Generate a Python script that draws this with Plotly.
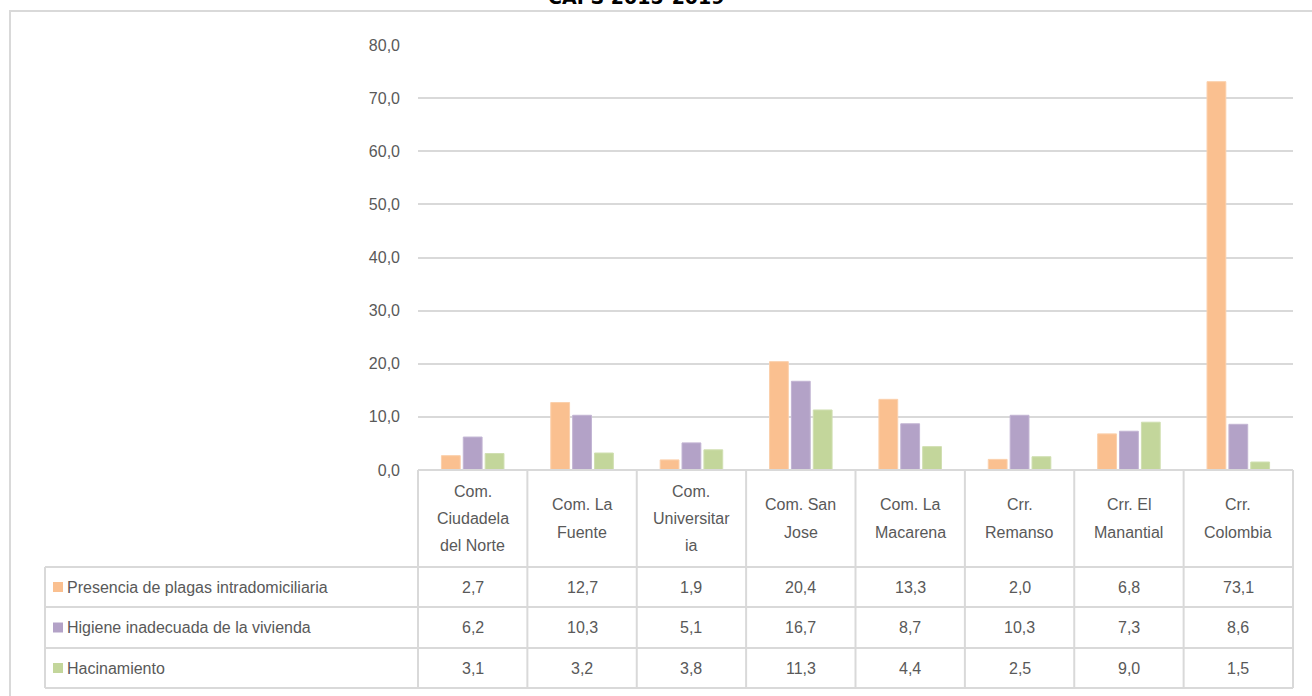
import plotly.graph_objects as go

# ---- data ----
categories = ["Com. Ciudadela del Norte", "Com. La Fuente", "Com. Universitaria",
              "Com. San Jose", "Com. La Macarena", "Crr. Remanso",
              "Crr. El Manantial", "Crr. Colombia"]
header_labels = ["Com.<br>Ciudadela<br>del Norte", "Com. La<br>Fuente", "Com.<br>Universitar<br>ia",
                 "Com. San<br>Jose", "Com. La<br>Macarena", "Crr.<br>Remanso",
                 "Crr. El<br>Manantial", "Crr.<br>Colombia"]
series_names = ["Presencia de plagas intradomiciliaria",
                "Higiene inadecuada de la vivienda",
                "Hacinamiento"]
plagas = [2.7, 12.7, 1.9, 20.4, 13.3, 2.0, 6.8, 73.1]
higiene = [6.2, 10.3, 5.1, 16.7, 8.7, 10.3, 7.3, 8.6]
hacinamiento = [3.1, 3.2, 3.8, 11.3, 4.4, 2.5, 9.0, 1.5]
title_text = "CAPS 2015-2019"

series_values = [plagas, higiene, hacinamiento]
colors = ["#FAC090", "#B3A2C7", "#C3D69B"]
edge_colors = ["#FBD0AC", "#C2B4D3", "#D0DFB1"]

W, H = 1312, 696
L, R = 418, 1293      # plot left/right pixels
T, B = 45, 470        # plot top/bottom pixels
GRID = "#D9D9D9"
TXT = "#595959"
FONT = "Liberation Sans, Arial, sans-serif"
FS = 16


def px(x):
    return (x - L) / (R - L)


def py(y):
    return (B - y) / (B - T)


fig = go.Figure()
for name, vals, c, ec in zip(series_names, series_values, colors, edge_colors):
    fig.add_trace(go.Bar(x=categories, y=vals, name=name,
                         marker=dict(color=c, line=dict(color=ec, width=1))))

shapes = []
annotations = []

# outer chart border
shapes.append(dict(type="rect", xref="paper", yref="paper",
                   x0=px(10), x1=px(1330), y0=py(11), y1=py(720),
                   line=dict(color=GRID, width=2), layer="below"))

n = len(categories)
cw = (R - L) / n
row_lines = [567, 607, 648, 688]
# horizontal lines
shapes.append(dict(type="line", xref="paper", yref="paper",
                   x0=px(L), x1=px(R), y0=py(B), y1=py(B),
                   line=dict(color=GRID, width=2)))
for yl in row_lines:
    shapes.append(dict(type="line", xref="paper", yref="paper",
                       x0=px(45), x1=px(R), y0=py(yl), y1=py(yl),
                       line=dict(color=GRID, width=2)))
# vertical lines
for i in range(n + 1):
    xl = L + i * cw
    shapes.append(dict(type="line", xref="paper", yref="paper",
                       x0=px(xl), x1=px(xl), y0=py(B), y1=py(688),
                       line=dict(color=GRID, width=2)))
shapes.append(dict(type="line", xref="paper", yref="paper",
                   x0=px(45), x1=px(45), y0=py(567), y1=py(688),
                   line=dict(color=GRID, width=2)))

# header labels
hdr_center = (B + 567) / 2
line_h = 27
for cat, lab in zip(categories, header_labels):
    lines = lab.split("<br>")
    k = len(lines)
    for j, ln in enumerate(lines):
        yc = hdr_center + (j - (k - 1) / 2) * line_h
        annotations.append(dict(x=cat, xref="x", y=py(yc), yref="paper",
                                text=ln, showarrow=False, xanchor="center", yanchor="middle",
                                font=dict(family=FONT, size=FS, color=TXT)))

# data rows
row_centers = [(row_lines[i] + row_lines[i + 1]) / 2 for i in range(3)]
for r, (name, vals, c) in enumerate(zip(series_names, series_values, colors)):
    yc = row_centers[r]
    shapes.append(dict(type="rect", xref="paper", yref="paper",
                       x0=px(53), x1=px(63), y0=py(yc - 5), y1=py(yc + 5),
                       fillcolor=c, line=dict(width=0)))
    annotations.append(dict(x=px(65), xref="paper", y=py(yc), yref="paper",
                            text=name, showarrow=False, xanchor="left", yanchor="middle",
                            font=dict(family=FONT, size=FS, color=TXT)))
    for cat, v in zip(categories, vals):
        annotations.append(dict(x=cat, xref="x", y=py(yc), yref="paper",
                                text=f"{v:.1f}".replace(".", ","), showarrow=False,
                                xanchor="center", yanchor="middle",
                                font=dict(family=FONT, size=FS, color=TXT)))

# title (clipped at the top edge, as in the reference)
annotations.append(dict(x=px(636), xref="paper", y=py(9), yref="paper",
                        text=f"<b>{title_text}</b>", showarrow=False,
                        xanchor="center", yanchor="bottom", borderpad=0,
                        font=dict(family="DejaVu Sans", size=19, color="#000000")))

fig.update_layout(
    width=W, height=H,
    margin=dict(l=L, r=W - R, t=T, b=H - B, pad=0),
    paper_bgcolor="white", plot_bgcolor="white",
    barmode="group", bargap=0.4, bargroupgap=0.14,
    showlegend=False,
    separators=",.",
    xaxis=dict(showticklabels=False, showgrid=False, zeroline=False, showline=False,
               ticks="", range=[-0.5, n - 0.5]),
    yaxis=dict(range=[0, 80], dtick=10, tickformat=".1f", showgrid=True,
               gridcolor=GRID, gridwidth=2, zeroline=False, showline=False,
               ticks="", ticklabelstandoff=17,
               tickfont=dict(family=FONT, size=FS, color=TXT)),
    shapes=shapes, annotations=annotations,
)

fig.write_html("out.html", config={"displayModeBar": False},
               post_script="document.body.style.margin='0px';document.body.style.padding='0px';")
